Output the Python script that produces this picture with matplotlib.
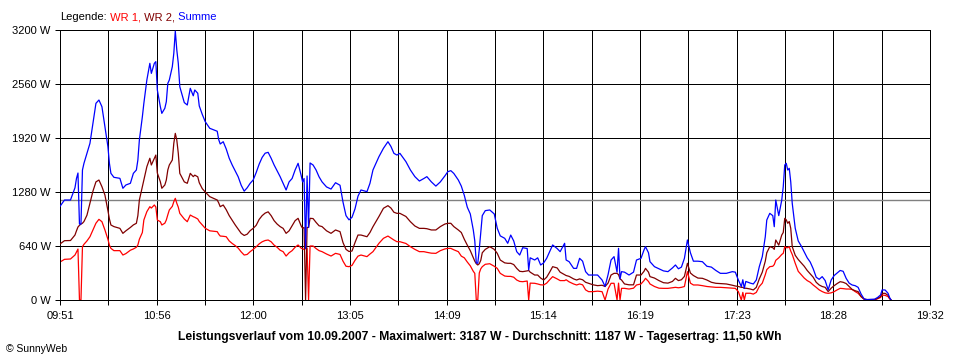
import matplotlib
matplotlib.use("Agg")
import matplotlib.pyplot as plt
import numpy as np

plt.rcParams["font.family"] = ["Liberation Sans", "DejaVu Sans"]

#  Data (time, Summe, WR 2, WR 1 in W)
# *********************************************************
times = [
    "09:51", "09:54", "09:58", "10:01", "10:02", "10:03", "10:04", "10:05", "10:06", "10:07",
    "10:09", "10:11", "10:13", "10:15", "10:17", "10:19", "10:21", "10:23", "10:24", "10:25",
    "10:27", "10:31", "10:33", "10:35", "10:38", "10:40", "10:42", "10:43", "10:44", "10:46",
    "10:47", "10:49", "10:51", "10:52", "10:54", "10:55", "10:56", "10:58", "10:59", "11:01",
    "11:02", "11:03", "11:04", "11:06", "11:07", "11:08", "11:09", "11:10", "11:11", "11:14",
    "11:16", "11:18", "11:20", "11:21", "11:23", "11:24", "11:26", "11:28", "11:31", "11:36",
    "11:37", "11:38", "11:40", "11:42", "11:44", "11:46", "11:48", "11:50", "11:52", "11:54",
    "11:56", "11:58", "12:00", "12:02", "12:04", "12:06", "12:08", "12:10", "12:12", "12:14",
    "12:16", "12:18", "12:20", "12:22", "12:24", "12:26", "12:28", "12:30", "12:32", "12:33",
    "12:34", "12:35", "12:36", "12:37", "12:38", "12:40", "12:42", "12:44", "12:46", "12:49",
    "12:52", "12:55", "12:58", "13:00", "13:02", "13:04", "13:06", "13:08", "13:10", "13:12",
    "13:16", "13:18", "13:20", "13:24", "13:27", "13:30", "13:32", "13:34", "13:36", "13:38",
    "13:42", "13:45", "13:48", "13:51", "13:54", "13:56", "13:59", "14:02", "14:05", "14:08",
    "14:10", "14:12", "14:14", "14:17", "14:19", "14:21", "14:23", "14:25", "14:27", "14:28",
    "14:29", "14:30", "14:31", "14:32", "14:33", "14:35", "14:38", "14:41", "14:43", "14:45",
    "14:48", "14:50", "14:52", "14:54", "14:56", "14:58", "15:00", "15:03", "15:04", "15:05",
    "15:08", "15:10", "15:12", "15:14", "15:16", "15:18", "15:20", "15:23", "15:25", "15:28",
    "15:29", "15:31", "15:34", "15:36", "15:38", "15:40", "15:42", "15:44", "15:47", "15:50",
    "15:53", "15:55", "15:57", "15:59", "16:01", "16:03", "16:04", "16:05", "16:06", "16:08",
    "16:11", "16:14", "16:16", "16:19", "16:21", "16:22", "16:24", "16:25", "16:28", "16:31",
    "16:34", "16:37", "16:40", "16:42", "16:44", "16:46", "16:48", "16:50", "16:52", "16:54",
    "16:57", "17:00", "17:03", "17:06", "17:09", "17:12", "17:16", "17:20", "17:22", "17:24",
    "17:26", "17:27", "17:28", "17:29", "17:32", "17:34", "17:36", "17:38", "17:40", "17:42",
    "17:43", "17:45", "17:47", "17:48", "17:49", "17:51", "17:53", "17:54", "17:55", "17:56",
    "17:57", "17:58", "17:59", "18:00", "18:02", "18:04", "18:06", "18:08", "18:10", "18:12",
    "18:14", "18:16", "18:18", "18:20", "18:22", "18:24", "18:26", "18:28", "18:30", "18:32",
    "18:34", "18:36", "18:38", "18:40", "18:42", "18:44", "18:46", "18:48", "18:50", "18:55",
    "18:57", "18:59", "19:00", "19:02", "19:04", "19:05", "19:06",
]

summe = [
    1110, 1185, 1185, 1330, 1440, 1505, 900, 900, 1541, 1620,
    1738, 1857, 2094, 2331, 2370, 2291, 2054, 1817, 1620, 1501,
    1454, 1442, 1324, 1363, 1383, 1501, 1541, 1659, 1896, 2172,
    2331, 2607, 2805, 2686, 2805, 2825, 2489, 2291, 2212, 2272,
    2350, 2568, 2607, 2765, 2923, 3187, 2963, 2805, 2528, 2340,
    2311, 2509, 2420, 2489, 2450, 2300, 2200, 2113, 2035, 2000,
    1900, 1849, 1876, 1790, 1680, 1600, 1530, 1460, 1360, 1290,
    1330, 1383, 1422, 1510, 1610, 1690, 1740, 1750, 1680, 1600,
    1530, 1462, 1383, 1304, 1400, 1440, 1540, 1620, 1480, 1400,
    1440, 610, 1470, 860, 1624, 1600, 1541, 1460, 1400, 1340,
    1315, 1390, 1360, 1160, 1000, 950, 980, 1080, 1230, 1304,
    1284, 1383, 1541, 1699, 1798, 1876, 1820, 1738, 1718, 1738,
    1640, 1541, 1462, 1410, 1440, 1462, 1400, 1350, 1400, 1470,
    1521, 1533, 1500, 1422, 1350, 1240, 1100, 1020, 830, 700,
    440, 435, 600, 800, 1000, 1059, 1067, 1020, 850, 760,
    731, 672, 770, 700, 573, 533, 620, 610, 356, 500,
    474, 500, 415, 440, 494, 573, 652, 610, 573, 672,
    474, 454, 375, 375, 494, 460, 336, 296, 296, 296,
    237, 160, 300, 474, 514, 330, 612, 250, 336, 330,
    296, 330, 474, 494, 593, 632, 560, 454, 395, 370,
    345, 336, 380, 415, 370, 390, 494, 711, 560, 460,
    460, 454, 400, 390, 350, 316, 316, 336, 330, 237,
    160, 240, 138, 220, 200, 190, 237, 395, 514, 750,
    948, 1027, 1000, 869, 1185, 1000, 1185, 1343, 1600, 1620,
    1540, 1561, 1400, 1146, 850, 700, 640, 570, 500, 450,
    370, 270, 245, 277, 230, 120, 237, 290, 320, 350,
    340, 257, 200, 178, 170, 150, 70, 12, 5, 10,
    30, 60, 119, 119, 79, 30, 0,
]

wr2 = [
    664, 703, 705, 770, 820, 865, 885, 900, 910, 930,
    1005, 1145, 1290, 1400, 1422, 1343, 1244, 1060, 960, 889,
    870, 849, 790, 820, 860, 890, 909, 1000, 1185, 1340,
    1422, 1580, 1680, 1600, 1679, 1718, 1505, 1402, 1324, 1363,
    1422, 1541, 1600, 1659, 1857, 1975, 1896, 1738, 1501, 1400,
    1383, 1501, 1462, 1480, 1460, 1390, 1320, 1280, 1225, 1185,
    1150, 1106, 1126, 1070, 1000, 945, 890, 840, 790, 765,
    780, 822, 849, 885, 955, 1000, 1030, 1045, 1000, 940,
    900, 870, 849, 790, 820, 880, 940, 968, 880, 850,
    860, 0, 860, 860, 968, 965, 920, 880, 870, 820,
    790, 830, 810, 680, 600, 575, 580, 680, 770, 770,
    750, 800, 869, 990, 1087, 1118, 1090, 1040, 1027, 1027,
    990, 928, 877, 849, 849, 845, 830, 830, 870, 900,
    909, 909, 870, 830, 800, 720, 650, 585, 500, 460,
    430, 415, 430, 470, 560, 600, 632, 600, 553, 474,
    440, 435, 435, 420, 375, 340, 336, 345, 350, 330,
    296, 296, 260, 237, 270, 330, 395, 380, 330, 300,
    290, 280, 250, 237, 250, 240, 210, 198, 180, 170,
    175, 160, 200, 296, 316, 316, 300, 250, 237, 190,
    180, 180, 296, 296, 340, 375, 330, 277, 260, 230,
    205, 200, 220, 257, 230, 240, 280, 435, 320, 290,
    260, 257, 237, 210, 198, 195, 190, 175, 166, 160,
    150, 150, 138, 140, 130, 119, 150, 250, 330, 460,
    560, 632, 620, 600, 711, 650, 770, 800, 968, 950,
    909, 930, 850, 632, 530, 480, 440, 400, 350, 310,
    270, 210, 178, 160, 150, 99, 140, 170, 195, 217,
    210, 195, 160, 125, 110, 99, 40, 10, 5, 5,
    20, 40, 79, 79, 55, 20, 0,
]

wr1 = [
    450, 482, 486, 533, 570, 604, 0, 0, 632, 660,
    700, 750, 830, 910, 956, 928, 830, 720, 650, 612,
    585, 585, 533, 550, 590, 605, 625, 652, 720, 800,
    948, 1047, 1106, 1090, 1126, 1102, 948, 928, 889, 910,
    948, 1010, 1067, 1110, 1165, 1205, 1146, 1100, 1027, 960,
    928, 1007, 987, 980, 960, 930, 890, 850, 820, 810,
    780, 758, 755, 750, 700, 670, 645, 615, 570, 533,
    540, 573, 600, 630, 665, 690, 705, 711, 690, 650,
    625, 590, 573, 521, 560, 585, 625, 652, 615, 605,
    600, 610, 610, 0, 640, 640, 610, 585, 573, 545,
    521, 553, 540, 460, 400, 395, 410, 470, 520, 533,
    514, 545, 573, 672, 731, 758, 735, 711, 691, 691,
    670, 632, 600, 573, 573, 565, 555, 553, 585, 605,
    612, 612, 595, 573, 520, 500, 450, 405, 340, 316,
    0, 0, 320, 370, 395, 423, 430, 400, 375, 316,
    284, 280, 280, 270, 237, 220, 217, 225, 0, 200,
    198, 190, 180, 178, 200, 240, 277, 250, 230, 230,
    240, 215, 190, 178, 190, 180, 120, 99, 99, 105,
    99, 0, 130, 198, 198, 0, 200, 0, 138, 138,
    130, 140, 178, 190, 230, 257, 220, 190, 160, 140,
    138, 138, 145, 150, 145, 150, 160, 336, 200, 178,
    178, 170, 160, 155, 150, 150, 145, 140, 138, 100,
    0, 90, 0, 80, 80, 70, 90, 160, 200, 300,
    360, 395, 400, 420, 470, 500, 540, 553, 632, 620,
    620, 632, 580, 540, 435, 340, 300, 260, 230, 210,
    178, 150, 120, 100, 85, 79, 85, 99, 120, 138,
    135, 130, 130, 125, 100, 79, 40, 10, 0, 0,
    15, 30, 59, 55, 40, 15, 0,
]

average = 1187
y_ticks = [0, 640, 1280, 1920, 2560, 3200]
x_labels = ["09:51", "10:56", "12:00", "13:05", "14:09",
            "15:14", "16:19", "17:23", "18:28", "19:32"]
legend_words = [("WR 1,", "#ff0000"), ("WR 2,", "#800000"), ("Summe", "#0000ff")]
footer = ("Leistungsverlauf vom 10.09.2007 - Maximalwert: 3187 W - "
          "Durchschnitt: 1187 W - Tagesertrag: 11,50 kWh")


def to_min(s):
    h, m = s.split(":")
    return int(h) * 60 + int(m)


t = np.array([to_min(s) for s in times])
t0 = to_min(x_labels[0])
t1 = to_min(x_labels[-1])

#  Plot
# *****
fig = plt.figure(figsize=(9.6, 3.6), dpi=100)
ax = fig.add_axes([60 / 960, 60 / 360, 870 / 960, 270 / 360])

px = 0.72  # one pixel in points
# gridlines every half label step, label only on every other one
grid_x = np.linspace(t0, t1, 2 * len(x_labels) - 1)
tick_lbls = [x_labels[i // 2] if i % 2 == 0 else "" for i in range(len(grid_x))]

ax.set_xlim(t0, t1)
ax.set_ylim(0, y_ticks[-1])
ax.set_xticks(grid_x)
ax.set_xticklabels(tick_lbls)
ax.set_yticks(y_ticks)
ax.set_yticklabels([str(v) + " W" for v in y_ticks])
ax.tick_params(direction="out", length=3.6, width=px, colors="black",
               labelsize=8, pad=3)
ax.tick_params(axis="x", pad=4)
ax.grid(True, color="black", linewidth=px)
ax.set_axisbelow(True)
for sp in ax.spines.values():
    sp.set_linewidth(px)
    sp.set_color("black")

ax.axhline(average, color="#808080", linewidth=1.0, zorder=1.5)
ax.plot(t, wr1, color="#ff0000", linewidth=0.9, zorder=2)
ax.plot(t, wr2, color="#800000", linewidth=0.9, zorder=3)
ax.plot(t, summe, color="#0000ff", linewidth=0.9, zorder=4)

# legend line at the top, each word placed right after the previous one
last = fig.text(60 / 960, 1 - 17 / 360, "Legende:", fontsize=8,
                color="black", va="center", ha="left")
for word, col in legend_words:
    last = ax.annotate(" " + word, xy=(1, 0), xycoords=last, fontsize=8,
                       color=col, va="bottom", ha="left",
                       annotation_clip=False)

fig.text(0.5, 1 - 337 / 360, footer, fontsize=8.75, fontweight="bold",
         ha="center", va="center")
fig.text(6 / 960, 1 - 349 / 360, "\u00a9 SunnyWeb", fontsize=7.5,
         ha="left", va="center")

fig.savefig("out.png", dpi=100)
